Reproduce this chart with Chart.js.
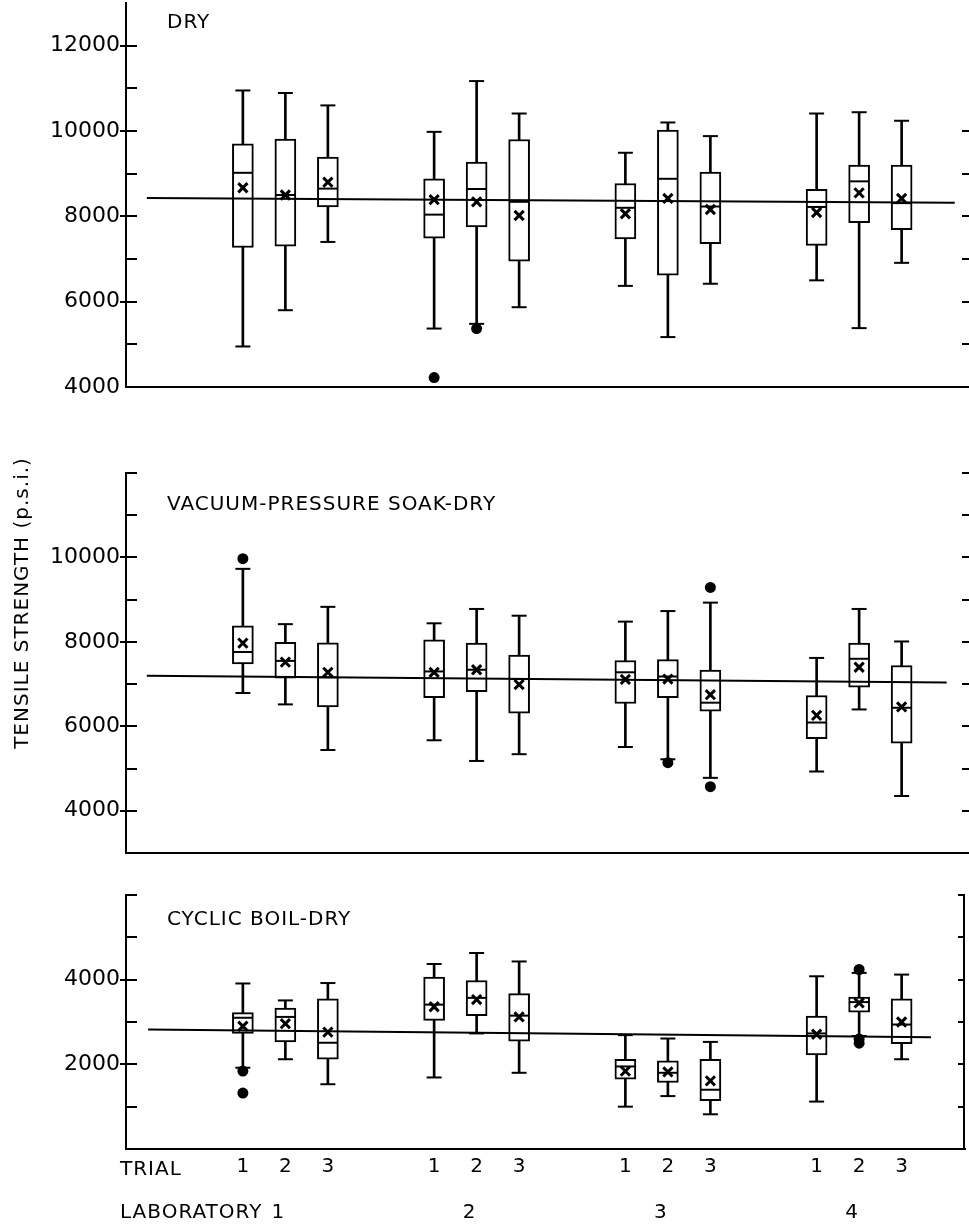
<!DOCTYPE html>
<html>
<head>
<meta charset="utf-8">
<script src="https://cdn.jsdelivr.net/npm/chart.js@4"></script>
<style>
  body { margin: 0; background: #fff; }
  canvas { position: absolute; left: 0; }
</style>
</head>
<body>
<canvas id="dry" width="969" height="400" style="top:0"></canvas>
<canvas id="vac" width="969" height="470" style="top:400px"></canvas>
<canvas id="boil" width="969" height="345" style="top:880px"></canvas>
<script>
const labs = ["1", "2", "3", "4"];
const trials = ["1", "2", "3"];

// DRY  (12 boxes: lab 1 trials 1-3, lab 2 trials 1-3, ...)
const dryMin  = [4950, 5800, 7400, 5370, 5480, 5870, 6370, 5170, 6420, 6500, 5380, 6910];
const dryQ1   = [7270, 7300, 8220, 7490, 7750, 6950, 7470, 6620, 7360, 7320, 7850, 7690];
const dryMed  = [9020, 8500, 8650, 8040, 8640, 8340, 8200, 8880, 8230, 8220, 8820, 8310];
const dryQ3   = [9700, 9810, 9390, 8880, 9270, 9800, 8770, 10020, 9040, 8630, 9200, 9200];
const dryMax  = [10950, 10890, 10600, 9980, 11170, 10410, 9490, 10200, 9880, 10410, 10440, 10240];
const dryMean = [8670, 8500, 8800, 8390, 8340, 8020, 8060, 8420, 8160, 8090, 8550, 8420];
const dryOut  = [[3, 4220], [4, 5370]];
const dryGrand = [8430, 8320];

// VACUUM-PRESSURE SOAK-DRY
const vacMin  = [6790, 6520, 5440, 5670, 5180, 5340, 5510, 5220, 4780, 4930, 6400, 4350];
const vacQ1   = [7480, 7140, 6460, 6680, 6820, 6310, 6540, 6680, 6360, 5710, 6930, 5600];
const vacMed  = [7760, 7550, 7160, 7300, 7340, 7120, 7280, 7180, 6560, 6090, 7600, 6440];
const vacQ3   = [8380, 7990, 7980, 8050, 7970, 7690, 7560, 7580, 7330, 6730, 7970, 7440];
const vacMax  = [9730, 8420, 8830, 8440, 8780, 8620, 8480, 8730, 8930, 7620, 8780, 8010];
const vacMean = [7970, 7520, 7280, 7280, 7340, 6990, 7110, 7120, 6750, 6260, 7400, 6460];
const vacOut  = [[0, 9970], [7, 5140], [8, 9290], [8, 4570]];
const vacGrand = [7200, 7040];

// CYCLIC BOIL-DRY
const boilMin  = [1920, 2120, 1530, 1690, 2730, 1800, 1000, 1250, 820, 1120, 2670, 2120];
const boilQ1   = [2730, 2530, 2120, 3040, 3150, 2550, 1650, 1570, 1140, 2220, 3230, 2490];
const boilMed  = [3100, 3120, 2510, 3410, 3570, 3150, 1950, 1800, 1400, 2730, 3470, 2940];
const boilQ3   = [3220, 3330, 3550, 4060, 3980, 3670, 2120, 2080, 2120, 3140, 3590, 3550];
const boilMax  = [3910, 3510, 3920, 4370, 4630, 4430, 2690, 2610, 2530, 4080, 4160, 4120];
const boilMean = [2900, 2960, 2760, 3360, 3530, 3120, 1840, 1820, 1610, 2710, 3450, 3000];
const boilOut  = [[0, 1840], [0, 1320], [10, 4240], [10, 2600], [10, 2500]];
const boilGrand = [2820, 2640];

const FONT = "DejaVu Sans";
const PX_PER_SLOT = 42.5;

// lab L, trial T  ->  x position (labs spaced 4.5 slots apart)
function posOf(i) { return Math.floor(i / 3) * 4.5 + (i % 3) + 1; }

function makePanel(id, p) {
  const idx = p.min.map((_, i) => i);
  const xMin = -1.75;
  const xMax = xMin + (969 - p.padRight - 126) / PX_PER_SLOT;
  const black = "#000";

  const extras = {
    id: "extras",
    afterDraw(chart) {
      const { ctx, chartArea: a, scales: { x, y } } = chart;
      ctx.save();
      ctx.strokeStyle = black;
      ctx.fillStyle = black;
      ctx.lineWidth = 2;
      // left ticks (inside, labelled ones cross the axis)
      p.leftTicks.forEach(v => {
        const py = Math.round(y.getPixelForValue(v));
        ctx.beginPath();
        ctx.moveTo(a.left - (p.labels.includes(v) ? 6 : 0), py);
        ctx.lineTo(a.left + 11, py);
        ctx.stroke();
      });
      // right ticks
      p.rightTicks.forEach(v => {
        const py = Math.round(y.getPixelForValue(v));
        ctx.beginPath();
        ctx.moveTo(a.right - 7, py);
        ctx.lineTo(a.right, py);
        ctx.stroke();
      });
      if (p.rightAxis) {
        ctx.beginPath();
        ctx.moveTo(a.right - 1, y.getPixelForValue(p.rightAxis));
        ctx.lineTo(a.right - 1, a.bottom);
        ctx.stroke();
      }
      // panel title
      ctx.font = "20px '" + FONT + "'";
      ctx.letterSpacing = "1px";
      ctx.textAlign = "left";
      ctx.textBaseline = "alphabetic";
      ctx.fillText(p.title, 167, p.titleY);
      if (p.yTitle) {
        ctx.save();
        ctx.translate(28, p.yTitleY);
        ctx.rotate(-Math.PI / 2);
        ctx.textAlign = "center";
        ctx.fillText(p.yTitle, 0, 0);
        ctx.restore();
      }
      if (p.showTrials) {
        ctx.textAlign = "left";
        ctx.fillText("TRIAL", 120, a.bottom + 26);
        ctx.fillText("LABORATORY", 120, a.bottom + 69);
        ctx.textAlign = "center";
        labs.forEach((l, k) => {
          ctx.fillText(l, x.getPixelForValue(k * 4.5 + 2) - 7, a.bottom + 69);
        });
      }
      ctx.restore();
    }
  };

  new Chart(document.getElementById(id), {
    type: "bar",
    data: {
      datasets: [
        {
          type: "bar", order: 6, grouped: false, barThickness: 2,
          backgroundColor: black, borderWidth: 0,
          data: idx.map(i => ({ x: posOf(i), y: [p.min[i], p.max[i]] }))
        },
        {
          type: "bar", order: 5, grouped: false, barThickness: 21,
          backgroundColor: "#fff", borderColor: black, borderWidth: 2, borderSkipped: false,
          data: idx.map(i => ({ x: posOf(i), y: [p.q1[i], p.q3[i]] }))
        },
        {
          type: "line", order: 4, borderColor: black, borderWidth: 2, pointRadius: 0,
          data: [{ x: p.lineFrom, y: p.grand[0] }, { x: p.lineTo, y: p.grand[1] }]
        },
        {
          type: "scatter", order: 3, pointStyle: "line", pointRadius: 7.5,
          pointBorderWidth: 2, pointBorderColor: black,
          data: idx.flatMap(i => [{ x: posOf(i), y: p.min[i] }, { x: posOf(i), y: p.max[i] }])
        },
        {
          type: "scatter", order: 3, pointStyle: "line", pointRadius: 10,
          pointBorderWidth: 2, pointBorderColor: black,
          data: idx.map(i => ({ x: posOf(i), y: p.med[i] }))
        },
        {
          type: "scatter", order: 2, pointStyle: "crossRot", pointRadius: 6.5,
          pointBorderWidth: 3, pointBorderColor: black,
          data: idx.map(i => ({ x: posOf(i), y: p.mean[i] }))
        },
        {
          type: "scatter", order: 1, pointStyle: "circle", pointRadius: 5.5,
          pointBorderWidth: 0, pointBackgroundColor: black,
          data: p.out.map(([i, v]) => ({ x: posOf(i), y: v }))
        }
      ]
    },
    options: {
      responsive: false,
      devicePixelRatio: 1,
      animation: false,
      events: [],
      layout: { autoPadding: false, padding: { top: p.padTop, bottom: p.padBottom, left: 0, right: p.padRight } },
      plugins: { legend: { display: false }, tooltip: { enabled: false } },
      scales: {
        x: {
          type: "linear", min: xMin, max: xMax, offset: false,
          afterBuildTicks: s => { s.ticks = idx.map(i => ({ value: posOf(i) })); },
          afterFit: s => { s.height = p.xHeight; s.paddingLeft = 0; s.paddingRight = 0; },
          grid: { display: false, drawTicks: false },
          border: { display: true, color: black, width: 2 },
          ticks: {
            display: p.showTrials, autoSkip: false, maxRotation: 0, padding: 6,
            color: black, font: { family: FONT, size: 20 },
            callback: (v, i) => trials[i % 3]
          }
        },
        y: {
          min: p.yMin, max: p.yMax,
          afterFit: s => { s.width = 126; s.paddingTop = 0; s.paddingBottom = 0; },
          grid: { display: false, drawTicks: false },
          border: { display: true, color: black, width: 2 },
          ticks: {
            stepSize: 1000, autoSkip: false, padding: 6, color: black,
            font: { family: FONT, size: 22 },
            callback: v => (p.labels.includes(v) ? String(v) : null)
          }
        }
      }
    },
    plugins: [extras]
  });
}

makePanel("dry", {
  min: dryMin, q1: dryQ1, med: dryMed, q3: dryQ3, max: dryMax, mean: dryMean, out: dryOut,
  grand: dryGrand, lineFrom: -1.26, lineTo: 17.75,
  yMin: 4000, yMax: 13000,
  labels: [4000, 6000, 8000, 10000, 12000],
  leftTicks: [5000, 6000, 7000, 8000, 9000, 10000, 11000, 12000],
  rightTicks: [5000, 6000, 7000, 8000, 9000, 10000],
  title: "DRY", titleY: 28,
  padTop: 3, padBottom: 13, padRight: 0, xHeight: 0, showTrials: false
});

makePanel("vac", {
  min: vacMin, q1: vacQ1, med: vacMed, q3: vacQ3, max: vacMax, mean: vacMean, out: vacOut,
  grand: vacGrand, lineFrom: -1.26, lineTo: 17.56,
  yMin: 3000, yMax: 12000,
  labels: [4000, 6000, 8000, 10000],
  leftTicks: [4000, 5000, 6000, 7000, 8000, 9000, 10000, 11000, 12000],
  rightTicks: [4000, 5000, 6000, 7000, 8000, 9000, 10000, 11000, 12000],
  title: "VACUUM-PRESSURE SOAK-DRY", titleY: 110,
  yTitle: "TENSILE STRENGTH (p.s.i.)", yTitleY: 203,
  padTop: 73, padBottom: 17, padRight: 0, xHeight: 0, showTrials: false
});

makePanel("boil", {
  min: boilMin, q1: boilQ1, med: boilMed, q3: boilQ3, max: boilMax, mean: boilMean, out: boilOut,
  grand: boilGrand, lineFrom: -1.23, lineTo: 17.19,
  yMin: 0, yMax: 6000,
  labels: [2000, 4000],
  leftTicks: [1000, 2000, 3000, 4000, 5000, 6000],
  rightTicks: [1000, 2000, 3000, 4000, 5000, 6000],
  rightAxis: 6000,
  title: "CYCLIC BOIL-DRY", titleY: 45,
  padTop: 15, padBottom: 0, padRight: 4, xHeight: 76, showTrials: true
});
</script>
</body>
</html>
